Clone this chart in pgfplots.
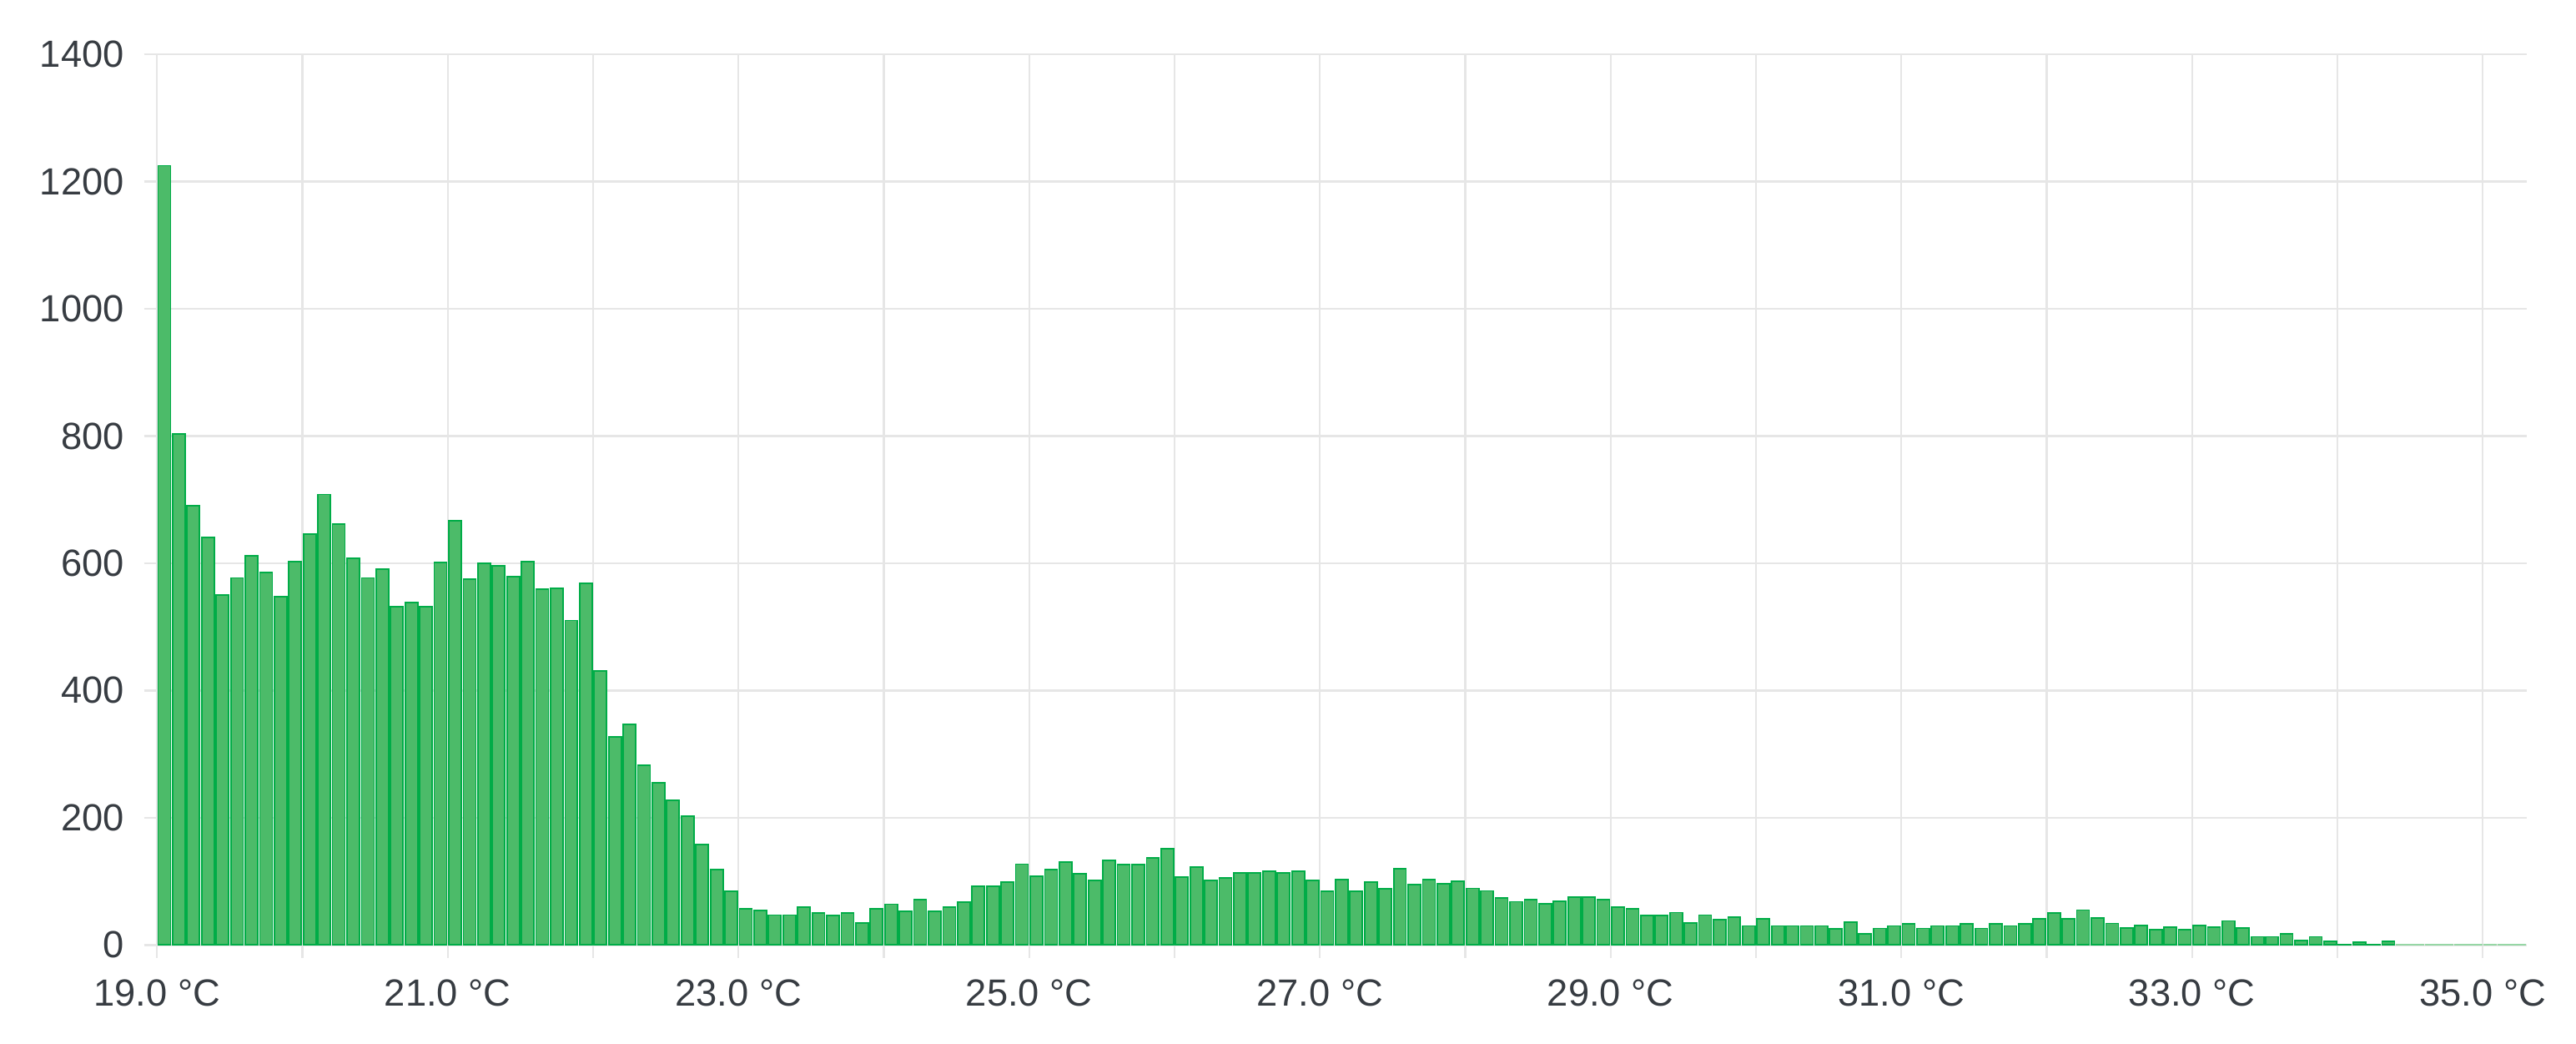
\documentclass[border=0pt]{standalone}
\usepackage{pgfplots}
\pgfplotsset{compat=1.18}
\usepackage{pgfplotstable}
\usepackage{fontspec}
\setmainfont{Liberation Sans}
\definecolor{barfill}{RGB}{76,187,105}
\definecolor{barline}{RGB}{0,172,71}
\definecolor{barfaint}{RGB}{150,215,165}
\definecolor{gridc}{RGB}{230,230,230}
\definecolor{labc}{RGB}{55,60,66}
\pgfplotstableread{
x y
19.05 1225
19.15 803
19.25 690
19.35 641
19.45 550
19.55 577
19.65 612
19.75 585
19.85 547
19.95 603
20.05 646
20.15 708
20.25 662
20.35 608
20.45 577
20.55 591
20.65 532
20.75 538
20.85 532
20.95 601
21.05 667
21.15 575
21.25 600
21.35 596
21.45 579
21.55 603
21.65 559
21.75 561
21.85 510
21.95 568
22.05 431
22.15 327
22.25 347
22.35 282
22.45 255
22.55 227
22.65 202
22.75 158
22.85 119
22.95 84
23.05 57
23.15 54
23.25 47
23.35 47
23.45 60
23.55 50
23.65 46
23.75 50
23.85 35
23.95 57
24.05 64
24.15 53
24.25 71
24.35 53
24.45 60
24.55 67
24.65 92
24.75 92
24.85 99
24.95 127
25.05 108
25.15 119
25.25 130
25.35 112
25.45 101
25.55 133
25.65 126
25.75 126
25.85 137
25.95 151
26.05 107
26.15 122
26.25 101
26.35 105
26.45 113
26.55 113
26.65 116
26.75 113
26.85 116
26.95 102
27.05 84
27.15 103
27.25 84
27.35 99
27.45 88
27.55 120
27.65 95
27.75 103
27.85 96
27.95 100
28.05 89
28.15 85
28.25 74
28.35 68
28.45 71
28.55 65
28.65 69
28.75 75
28.85 75
28.95 71
29.05 60
29.15 57
29.25 46
29.35 46
29.45 51
29.55 35
29.65 47
29.75 40
29.85 44
29.95 30
30.05 41
30.15 30
30.25 30
30.35 30
30.45 30
30.55 25
30.65 36
30.75 18
30.85 26
30.95 30
31.05 33
31.15 26
31.25 30
31.35 30
31.45 33
31.55 26
31.65 33
31.75 30
31.85 33
31.95 41
32.05 50
32.15 41
32.25 55
32.35 42
32.45 34
32.55 27
32.65 31
32.75 24
32.85 28
32.95 24
33.05 31
33.15 28
33.25 38
33.35 27
33.45 13
33.55 13
33.65 18
33.75 7
33.85 13
33.95 6
34.05 1
34.15 4
34.25 1
34.35 6
}\histdata
\pgfplotstableread{
x y
34.45 1
34.55 1
34.65 1
34.75 1
34.85 1
34.95 1
35.05 1
35.15 1
35.25 1
}\faintdata
\begin{document}
\begin{tikzpicture}
\useasboundingbox (-47.8pt,-30pt) rectangle (736.2pt,287.5pt);
\begin{axis}[
  at={(0,0)}, anchor=south west,
  scale only axis,
  width=721.1pt, height=271pt,
  xmin=19.0, xmax=35.3,
  ymin=0, ymax=1400,
  ytick={0,200,...,1400},
  xtick={19,21,...,35},
  minor xtick={20,22,...,34},
  grid=both,
  major grid style={draw=gridc, line width=0.6pt},
  minor grid style={draw=gridc, line width=0.6pt},
  axis line style={draw=none},
  xtick pos=bottom, ytick pos=left,
  tick align=outside,
  major tick length=4pt,
  minor tick length=4pt,
  tick style={draw=gridc, line width=0.6pt},
  /pgf/number format/assume math mode=true,
  ticklabel style={font=\fontsize{11.5}{13}\selectfont, text=labc},
  yticklabel style={/pgf/number format/1000 sep={}, xshift=-2.5pt},
  xticklabel style={yshift=-3pt},
  xticklabel={\pgfmathprintnumber[fixed,fixed zerofill,precision=1]{\tick} °C},
  clip=false,
]
\addplot[ybar, bar width=0.086, fill=barfill, draw=barline, line width=0.45pt] table[x=x,y=y] {\histdata};
\addplot[ybar, bar width=0.086, fill=barfaint, draw=barfaint, line width=0.45pt] table[x=x,y=y] {\faintdata};
\end{axis}
\end{tikzpicture}
\end{document}
